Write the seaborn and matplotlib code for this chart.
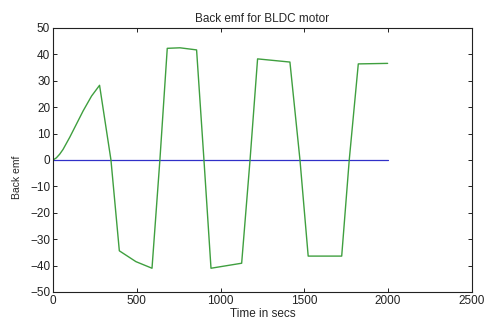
import matplotlib
matplotlib.use("Agg")
import matplotlib.pyplot as plt
import pandas as pd
import seaborn as sns

# back emf trace
time_s = [0, 20, 40, 60, 100, 140, 180, 230, 278, 346, 396, 495, 591, 638, 682, 758,
          857, 901, 943, 1126, 1176, 1221, 1414, 1474, 1523, 1723, 1768, 1822, 1997]
emf = [0, 0.8, 2.2, 4, 8.6, 13.6, 18.6, 24.2, 28.3, 0, -34.4, -38.5, -41, 0, 42.3, 42.5,
       41.7, 0, -41, -39.1, 0, 38.3, 37.1, 0, -36.4, -36.4, 0, 36.4, 36.6]
ref_t = [0, 2000]
ref_v = [0, 0]

df = pd.DataFrame({"t": time_s, "emf": emf})
ref = pd.DataFrame({"t": ref_t, "v": ref_v})

sns.set_style("ticks")
plt.rcParams["font.family"] = ["Liberation Sans", "DejaVu Sans"]
plt.rcParams["xtick.direction"] = "in"
plt.rcParams["ytick.direction"] = "in"

fig = plt.figure(figsize=(4.86, 3.2), dpi=100)
ax = fig.add_axes([0.109, 0.0875, 0.862, 0.825])

sns.lineplot(data=ref, x="t", y="v", ax=ax, color="#3030c8", linewidth=0.9)
sns.lineplot(data=df, x="t", y="emf", ax=ax, color="#3f9f3f", linewidth=1.0)

ax.set_xlim(0, 2500)
ax.set_ylim(-50, 50)
ax.set_xticks(range(0, 2501, 500))
ax.set_yticks(range(-50, 51, 10))
ax.tick_params(top=True, right=True, labelsize=8.5, length=3, width=0.7, pad=2, colors="#222222")
for s in ax.spines.values():
    s.set_linewidth(0.8)
    s.set_color("#222222")

ax.set_title("Back emf for BLDC motor", fontsize=8.5, pad=4)
ax.set_xlabel("Time in secs", fontsize=8.5, labelpad=1)
ax.set_ylabel("Back emf", fontsize=7.5)
ax.yaxis.set_label_coords(-0.074, 0.436)

fig.savefig("out.png", dpi=100)
